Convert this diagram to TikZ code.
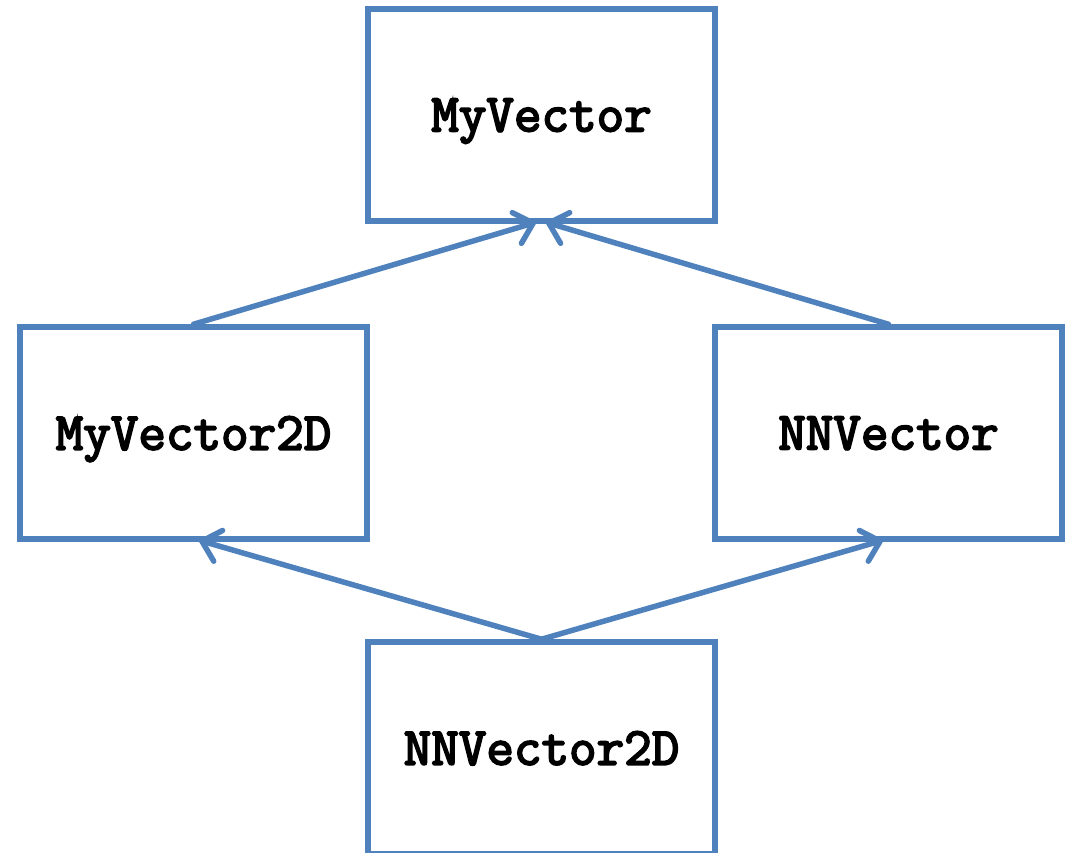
\documentclass[tikz,border=0pt]{standalone}
\usepackage{fontspec}
\setmonofont{Latin Modern Mono}[AutoFakeBold=3.5]
\usetikzlibrary{arrows.meta}
\definecolor{boxblue}{HTML}{4F81BD}
\begin{document}
\begin{tikzpicture}[x=1pt,y=-1pt,
  cls/.style={draw=boxblue,line width=5.5pt,minimum width=347pt,minimum height=212pt,inner sep=0pt,
    text depth=0pt,font=\fontsize{53.5}{56}\selectfont\ttfamily\bfseries},
  inh/.style={draw=boxblue,line width=5.5pt,line cap=round,line join=round,
    -{Straight Barb[length=17pt,width=32pt,line cap=round]}}]
\useasboundingbox (0,0) rectangle (1068,853);
\clip (0,0) rectangle (1068,853);
\node[cls] (mv) at (541.5,115) {MyVector};
\node[cls] (mv2) at (193.5,433) {MyVector2D};
\node[cls] (nn) at (888.5,433) {NNVector};
\node[cls] (nn2) at (541.5,748) {NNVector2D};
\coordinate (mvl) at (537,222);
\coordinate (mvr) at (545,222);
\coordinate (mv2b) at (198,540);
\coordinate (nnb) at (884,540);
\draw[inh] (mv2.north) -- (mvl);
\draw[inh] (nn.north) -- (mvr);
\draw[inh] (nn2.north) -- (mv2b);
\draw[inh] (nn2.north) -- (nnb);
\end{tikzpicture}
\end{document}
